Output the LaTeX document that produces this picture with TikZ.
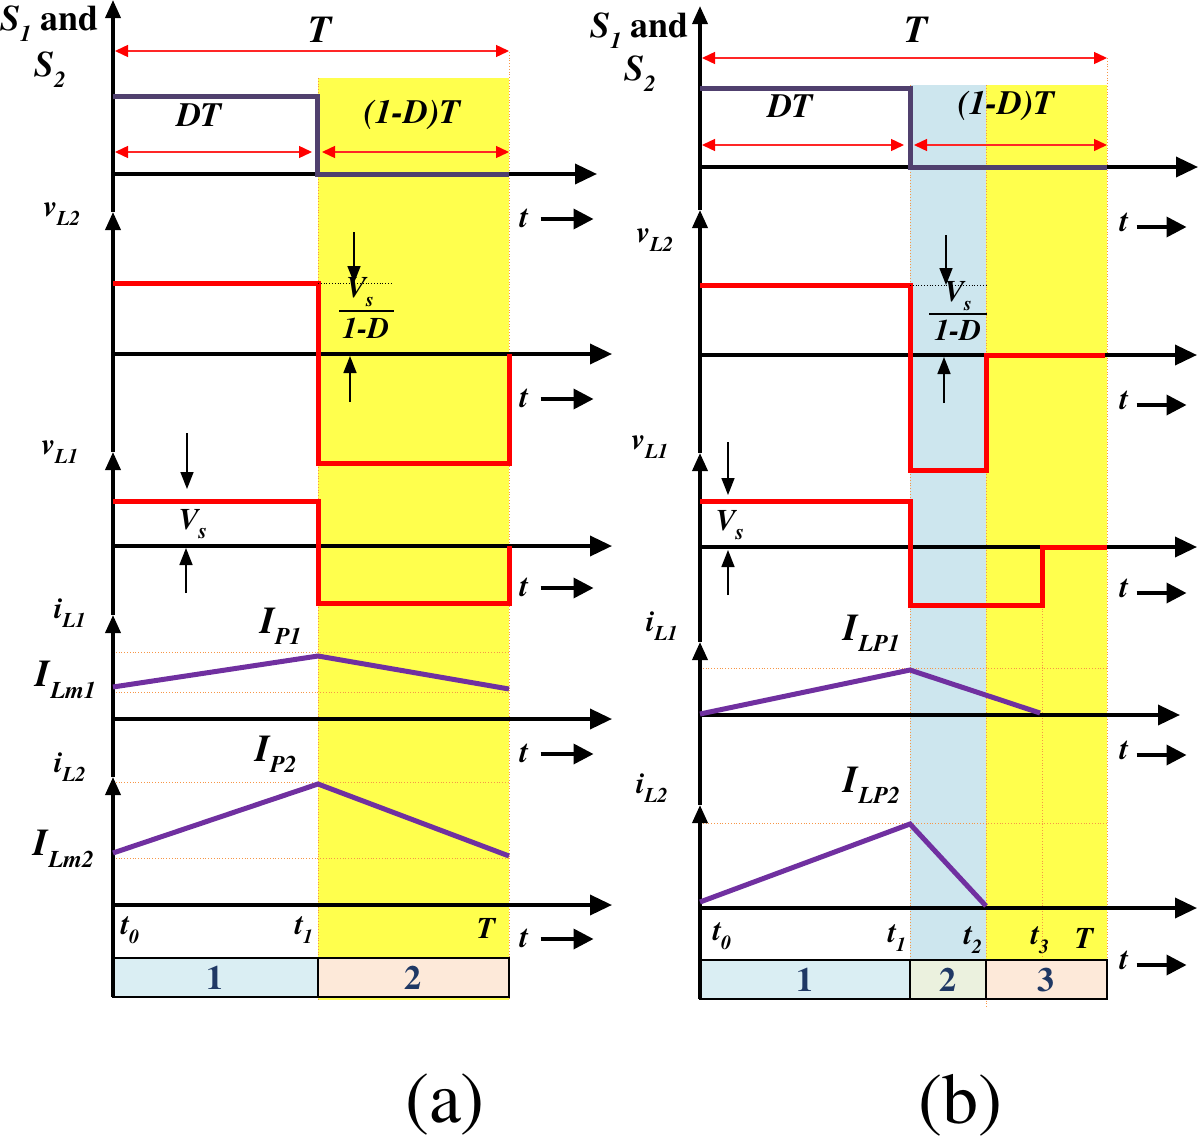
\documentclass[tikz,border=0pt]{standalone}
\usepackage{fontspec}
\setmainfont{TeX Gyre Termes}
\usetikzlibrary{arrows.meta}
\definecolor{yel}{RGB}{255,255,77}
\definecolor{lblue}{RGB}{205,230,238}
\definecolor{bxa}{RGB}{218,238,243}
\definecolor{bxb}{RGB}{253,233,217}
\definecolor{bxc}{RGB}{235,241,222}
\definecolor{swc}{RGB}{80,64,110}
\definecolor{purp}{RGB}{112,48,160}
\definecolor{orng}{RGB}{247,150,70}
\definecolor{navy}{RGB}{31,56,100}
\newcommand\sbx[2][21]{\raisebox{-0.3em}{\fontsize{#1}{#1}\selectfont #2}}
\begin{document}
\begin{tikzpicture}[x=1pt,y=-1pt,
  axis/.style={line width=3.6pt,-{Triangle[length=22pt,width=20pt]}},
  vax/.style={line width=3.6pt,-{Triangle[length=18pt,width=15pt]}},
  tarr/.style={line width=3.6pt,-{Triangle[length=20pt,width=20pt]}},
  dim/.style={red!85!white,line width=1.4pt,{Triangle[length=13pt,width=12pt,red]}-{Triangle[length=13pt,width=12pt,red]}},
  blk/.style={line width=1.6pt,-{Triangle[length=17pt,width=13pt]}},
  sw/.style={swc,line width=5pt,line join=miter},
  rw/.style={red,line width=5pt,line join=miter},
  pw/.style={purp,line width=5pt},
  odot/.style={orng,line width=0.8pt,dotted},
  bx/.style={draw=black,line width=2.2pt},
  lbl/.style={inner sep=0pt,font=\fontsize{30}{34}\selectfont\bfseries\itshape},
  dlbl/.style={inner sep=0pt,font=\fontsize{34}{38}\selectfont\bfseries\itshape},
  slbl/.style={inner sep=0pt,font=\fontsize{36}{40}\selectfont\bfseries\itshape},
  ilbl/.style={inner sep=0pt,font=\fontsize{38}{40}\selectfont\bfseries\itshape},
  tlbl/.style={inner sep=0pt,font=\fontsize{31}{34}\selectfont\bfseries\itshape},
  num/.style={inner sep=0pt,text=navy,font=\fontsize{34}{38}\selectfont\bfseries},
  captxt/.style={inner sep=0pt,font=\fontsize{72}{78}\selectfont}]
\useasboundingbox (0,0) rectangle (1200,1146);
% ================= panel (a) =================
\fill[yel] (318,78) rectangle (509,1000);
\draw[odot] (318,78) -- (318,1000);
\draw[odot] (509,52) -- (509,1000);
\foreach \yy in {652,692,782,858} \draw[odot] (113,\yy) -- (509,\yy);
\draw[bx,fill=bxa] (113,958) rectangle (318,997);
\draw[bx,fill=bxb] (318,958) rectangle (509,997);
\node[num] (a1) at (215,978) {1};
\node[num] (a2) at (413,978) {2};
% axes
\draw[vax] (113,997) -- (113,777);
\draw[vax] (113,777) -- (113,615);
\draw[vax] (113,615) -- (113,452);
\draw[vax] (113,452) -- (113,212);
\draw[vax] (113,212) -- (113,0);
\draw[axis] (113,174) -- (597,174);
\draw[axis] (113,354) -- (612,354);
\draw[axis] (113,546) -- (612,546);
\draw[axis] (113,719) -- (612,719);
\draw[axis] (113,905) -- (612,905);
% waveforms
\draw[sw] (113,96) -- (317,96) -- (317,174) -- (509,174);
\draw[rw] (113,283) -- (318,283) -- (318,463) -- (509,463) -- (509,354);
\draw[rw] (113,501) -- (318,501) -- (318,603) -- (509,603) -- (509,546);
\draw[pw] (113,687) -- (318,656) -- (509,689);
\draw[pw] (113,853) -- (318,784) -- (509,856);
% dimension arrows
\draw[dim] (115,51) -- (509,51);
\draw[dim] (115,152) -- (312,152);
\draw[dim] (322,152) -- (509,152);
\draw[black,line width=0.8pt,dotted] (318,283) -- (392,283);
\draw[blk] (354,232) -- (354,283);
\draw[blk] (350,402) -- (350,356);
\draw[line width=1.6pt] (339,311) -- (394,311);
\draw[blk] (187,433) -- (187,489);
\draw[blk] (186,593) -- (186,548);
% labels
\node[slbl,anchor=west] (aS1) at (0,24) {S\sbx[23]{1} \upshape and};
\node[slbl] (aS2) at (50,70) {S\sbx[23]{2}};
\node[ilbl] (aT) at (320,30) {T};
\node[dlbl] (aDT) at (199,115) {DT};
\node[dlbl] (a1DT) at (412,115) {(1-D)T};
\node[lbl] (avL2) at (62,214) {v\sbx{L2}};
\node[lbl] (avL1) at (60,452) {v\sbx{L1}};
\node[lbl] (aiL1) at (70,613) {i\sbx{L1}};
\node[lbl] (aiL2) at (70,767) {i\sbx{L2}};
\node[ilbl] (aIP1) at (281,626) {I\sbx[24]{P1}};
\node[ilbl] (aIP2) at (276,754) {I\sbx[24]{P2}};
\node[ilbl] (aILm1) at (66,680) {I\sbx[24]{Lm1}};
\node[ilbl] (aILm2) at (64,849) {I\sbx[24]{Lm2}};
\node[lbl] (aVs1) at (360,292) {V\sbx[20]{s}};
\node[lbl] (aD1) at (366,328) {1-D};
\node[lbl] (aVs2) at (193,524) {V\sbx[22]{s}};
\node[lbl] (at0) at (130,930) {t\sbx[20]{0}};
\node[lbl] (at1) at (304,930) {t\sbx[20]{1}};
\node[lbl] (aTT) at (486,928) {T};
\foreach \yy/\nm in {218/a,398/b,587/c,753/d,938/e}{
  \node[tlbl] (at\nm) at (524,\yy) {t};
  \draw[tarr] (at\nm.east) ++(12,1) -- ++(53,0);
}
\node[captxt] (capa) at (445,1105) {(a)};
% ================= panel (b) =================
\fill[lblue] (910,85) rectangle (986,960);
\fill[yel] (986,85) rectangle (1107,960);
\draw[odot] (910,85) -- (910,960);
\draw[odot] (986,85) -- (986,1008);
\draw[odot] (1042,603) -- (1042,960);
\draw[odot] (1107,58) -- (1107,960);
\foreach \yy in {668,823} \draw[odot] (700,\yy) -- (1107,\yy);
\draw[bx,fill=bxa] (700,960) rectangle (910,999);
\draw[bx,fill=bxc] (910,960) rectangle (986,999);
\draw[bx,fill=bxb] (986,960) rectangle (1107,999);
\node[num] (b1) at (805,980) {1};
\node[num] (b2) at (948,980) {2};
\node[num] (b3) at (1046,980) {3};
% axes
\draw[vax] (700,999) -- (700,805);
\draw[vax] (700,805) -- (700,642);
\draw[vax] (700,642) -- (700,453);
\draw[vax] (700,453) -- (700,210);
\draw[vax] (700,210) -- (700,6);
\draw[axis] (700,167) -- (1198,167);
\draw[axis] (700,355) -- (1197,355);
\draw[axis] (700,547) -- (1197,547);
\draw[axis] (700,715) -- (1180,715);
\draw[axis] (700,908) -- (1197,908);
% waveforms
\draw[sw] (700,88) -- (910,88) -- (910,167) -- (1107,167);
\draw[rw] (700,285) -- (910,285) -- (910,470) -- (986,470) -- (986,355) -- (1105,355);
\draw[rw] (700,501) -- (910,501) -- (910,605) -- (1042,605) -- (1042,547) -- (1107,547);
\draw[pw] (700,714) -- (910,670) -- (1040,713);
\draw[pw] (700,902) -- (910,824) -- (986,906);
% dimension arrows
\draw[dim] (702,58) -- (1107,58);
\draw[dim] (702,145) -- (904,145);
\draw[dim] (914,145) -- (1107,145);
\draw[black,line width=0.8pt,dotted] (910,285) -- (987,285);
\draw[blk] (946,235) -- (946,285);
\draw[blk] (944,403) -- (944,357);
\draw[line width=1.6pt] (929,314) -- (987,314);
\draw[blk] (728,442) -- (728,495);
\draw[blk] (728,595) -- (728,550);
% labels
\node[slbl,anchor=east] (bS1) at (689,31) {S\sbx[23]{1} \upshape and};
\node[slbl] (bS2) at (640,74) {S\sbx[23]{2}};
\node[ilbl] (bT) at (916,30) {T};
\node[dlbl] (bDT) at (790,106) {DT};
\node[dlbl] (b1DT) at (1006,106) {(1-D)T};
\node[lbl] (bvL2) at (655,240) {v\sbx{L2}};
\node[lbl] (bvL1) at (650,447) {v\sbx{L1}};
\node[lbl] (biL1) at (662,626) {i\sbx{L1}};
\node[lbl] (biL2) at (652,788) {i\sbx{L2}};
\node[ilbl] (bILP1) at (872,633) {I\sbx[24]{LP1}};
\node[ilbl] (bILP2) at (872,785) {I\sbx[24]{LP2}};
\node[lbl] (bVs1) at (958,296) {V\sbx[20]{s}};
\node[lbl] (bD1) at (958,330) {1-D};
\node[lbl] (bVs2) at (730,525) {V\sbx[22]{s}};
\node[lbl] (bt0) at (722,936) {t\sbx[20]{0}};
\node[lbl] (bt1) at (897,938) {t\sbx[20]{1}};
\node[lbl] (bt2) at (973,940) {t\sbx[20]{2}};
\node[lbl] (bt3) at (1040,940) {t\sbx[20]{3}};
\node[lbl] (bTT) at (1084,938) {T};
\foreach \yy/\nm in {222/a,400/b,588/c,750/d,960/e}{
  \node[tlbl] (bt\nm) at (1124,\yy) {t};
  \draw[tarr] (bt\nm.east) ++(8,5) -- ++(50,0);
}
\node[captxt] (capb) at (960,1105) {(b)};
\end{tikzpicture}
\end{document}
